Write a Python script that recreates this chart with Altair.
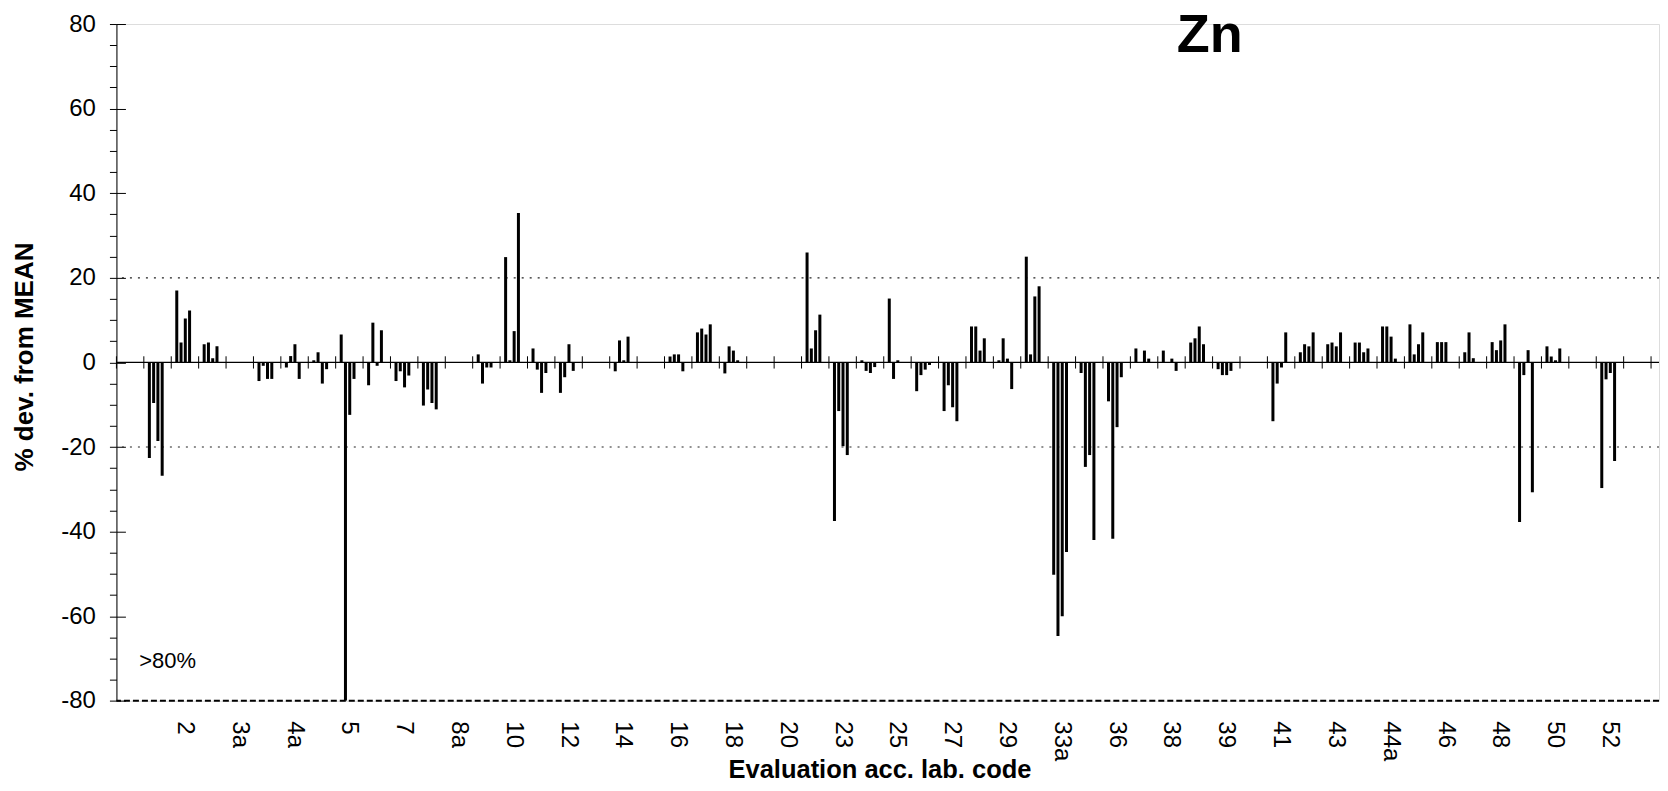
import altair as alt
import pandas as pd

# lab codes (one band per lab, labels only on every second band)
labs = ["0", "1", "2", "3", "3a", "4", "4a", "4b", "5", "6", "7", "8", "8a", "9", "10",
        "11", "12", "13", "14", "15", "16", "17", "18", "19", "20", "21", "23", "24",
        "25", "26", "27", "28", "29", "30", "33a", "34", "36", "37", "38", "38a", "39",
        "40", "41", "42", "43", "44", "44a", "45", "46", "47", "48", "49", "50", "51",
        "52", "53"]
tick_labels = ["2", "3a", "4a", "5", "7", "8a", "10", "12", "14", "16", "18", "20", "23",
               "25", "27", "29", "33a", "36", "38", "39", "41", "43", "44a", "46", "48",
               "50", "52"]

# % deviation from mean, four results per lab (None = no result)
s1 = [None, -22.6, 17.0, 4.3, None, -4.4, -1.2, 0.5, 6.6, -5.4, -4.4, -10.2, None, 1.9, 24.9,
      3.3, -7.2, None, -2.1, None, 1.4, 7.1, -2.6, None, None, 26.0, -37.5, 0.5, 15.1, -6.8,
      -11.5, 8.5, 0.5, 25.0, -50.2, -2.5, -9.2, 3.3, 2.8, 4.7, -1.6, None, -13.9, 2.4, 4.3,
      4.7, 8.5, 9.0, 4.8, 2.4, 4.8, -37.7, 3.8, None, -29.7, None]
s2 = [None, -9.6, 4.7, 4.7, None, -0.8, 1.5, 2.4, -80.0, 9.4, -2.1, -6.4, None, -5.0, 0.5,
      -1.7, -3.5, None, 5.2, None, 1.9, 8.0, 3.8, None, None, 3.3, -11.5, -2.0, -3.9, -3.0,
      -5.4, 8.5, 5.7, 1.9, -64.7, -24.7, -41.7, None, None, 5.7, -3.0, None, -5.0, 4.3, 4.7,
      4.7, 8.5, 1.9, 4.8, 7.1, 2.9, -3.0, 1.4, None, -4.0, None]
s3 = [None, -18.6, 10.4, 1.0, None, -3.9, 4.3, -5.0, -12.4, -0.8, -5.9, -9.6, None, -1.2, 7.4,
      -7.2, 4.3, None, 0.5, None, 1.9, 6.6, 2.8, None, None, 7.6, -19.8, -2.5, 0.5, -1.7,
      -10.6, 2.8, 0.9, 15.6, -60.0, -21.9, -15.3, 2.8, 0.9, 8.5, -3.0, None, -1.2, 3.8, 3.8,
      2.4, 6.1, 4.3, 4.8, 1.0, 5.2, 2.9, 0.5, None, -2.5, None]
s4 = [None, -26.8, 12.3, 3.8, None, -3.9, -3.9, -1.6, -3.9, 7.6, -3.1, -11.1, None, -1.2, 35.3,
      -2.5, -2.0, None, 6.1, None, -2.1, 9.0, 0.5, None, None, 11.3, -21.9, -1.1, None, -0.6,
      -13.9, 5.7, -6.3, 18.0, -44.8, -42.0, -3.5, 0.9, -2.0, 4.3, -2.0, None, 7.1, 7.1, 7.1,
      3.3, 0.9, 7.1, None, None, 9.0, -30.7, 3.3, None, -23.3, None]

limits = [20, -20]
bottom_line = [-80]
zero_line = [0]

FONT = "Liberation Sans"
W = 1543.5
H = 677.2

rows = []
for i, lab in enumerate(labs):
    for slot, series in enumerate([s1, s2, s3, s4]):
        v = series[i]
        if v is not None:
            rows.append({"lab": lab, "slot": slot, "value": v})
bars_df = pd.DataFrame(rows)
labs_df = pd.DataFrame({"lab": labs})
last_df = pd.DataFrame({"lab": labs[-1:]})

yscale = alt.Scale(domain=[-80, 80], nice=False, zero=False)
xscale = alt.Scale(domain=labs, paddingInner=0, paddingOuter=0.145, align=0)
shown = ",".join("'%s'" % t for t in tick_labels)
xaxis = alt.Axis(
    orient="bottom", domain=False, ticks=False, grid=False,
    labelExpr="indexof([%s], datum.value) >= 0 ? datum.value : ''" % shown,
    labelAngle=90, labelAlign="left", labelBaseline="middle", labelFontSize=24,
    labelColor="black", labelPadding=20, labelOverlap=False, labelFont=FONT,
    title="Evaluation acc. lab. code", titleFontSize=25.5, titleFontWeight="bold",
    titleColor="black", titleFont=FONT, titleX=763.5, titleY=69,
    titleAlign="center", titleBaseline="middle",
)
yaxis = alt.Axis(
    orient="left", values=list(range(-80, 81, 5)),
    labelExpr="datum.value % 20 == 0 ? toString(datum.value) : ''",
    tickSize=7, tickColor="black", tickWidth=1, domainColor="black", domainWidth=1,
    labelFontSize=24, labelColor="black", labelPadding=14, labelOverlap=False,
    labelFont=FONT, grid=False,
    title="% dev. from MEAN", titleFontSize=26, titleFontWeight="bold", titleColor="black",
    titleFont=FONT, titleX=-92, titleY=332.7, titleAngle=270, titleAlign="center",
    titleBaseline="middle",
)
inner_axis = alt.Axis(
    orient="right", offset=-W, values=list(range(-80, 81, 20)), tickSize=9,
    tickColor="black", tickWidth=1, labels=False, domain=False, grid=False, title=None,
)

bars = alt.Chart(bars_df).mark_bar(color="black", clip=True).encode(
    x=alt.X("lab:N", sort=labs, scale=xscale, axis=xaxis),
    xOffset=alt.XOffset("slot:O", scale=alt.Scale(domain=[0, 1, 2, 3, 4], paddingInner=0.297,
                                                  paddingOuter=0.858, align=0.55)),
    y=alt.Y("value:Q", scale=yscale, axis=yaxis),
)

zero = alt.Chart(pd.DataFrame({"v": zero_line})).mark_rule(color="black", strokeWidth=1.3).encode(
    y=alt.Y("v:Q", scale=yscale, axis=inner_axis)
)

ref = alt.Chart(pd.DataFrame({"v": limits})).mark_rule(
    color="#222222", strokeWidth=1.2, strokeDash=[2, 6]
).encode(y=alt.Y("v:Q", scale=yscale, axis=None))

bottom = alt.Chart(pd.DataFrame({"v": bottom_line})).mark_rule(
    color="black", strokeWidth=2, strokeDash=[6, 3]
).encode(y=alt.Y("v:Q", scale=yscale, axis=None))

group_ticks = alt.Chart(labs_df).mark_rule(color="black", strokeWidth=1).encode(
    x=alt.X("lab:N", sort=labs, scale=xscale, axis=xaxis, bandPosition=0),
    y=alt.YDatum(-1.45, scale=yscale, axis=None),
    y2=alt.Y2Datum(1.45),
)
end_tick = alt.Chart(last_df).mark_rule(color="black", strokeWidth=1).encode(
    x=alt.X("lab:N", sort=labs, scale=xscale, axis=xaxis, bandPosition=1),
    y=alt.YDatum(-1.45, scale=yscale, axis=None),
    y2=alt.Y2Datum(1.45),
)

note = alt.Chart(pd.DataFrame({"t": [">80%"]})).mark_text(
    align="left", baseline="middle", fontSize=22, font=FONT, color="black"
).encode(text="t:N", x=alt.value(22.8), y=alt.YDatum(-70.6, scale=yscale, axis=None))

title = alt.Chart(pd.DataFrame({"t": ["Zn"]})).mark_text(
    align="center", baseline="alphabetic", fontSize=54, fontWeight="bold", font=FONT,
    color="black"
).encode(text="t:N", x=alt.value(1094), y=alt.YDatum(73.4, scale=yscale, axis=None))

chart = alt.layer(ref, bottom, bars, zero, group_ticks, end_tick, note, title).resolve_axis(
    y="independent"
).properties(
    width=W, height=H,
    padding={"left": 3.5, "top": -0.2, "right": 0, "bottom": 0},
    background="white",
).configure_view(stroke=None).configure(font=FONT)

chart.save("out.html", embed_options={"renderer": "svg", "actions": False})
